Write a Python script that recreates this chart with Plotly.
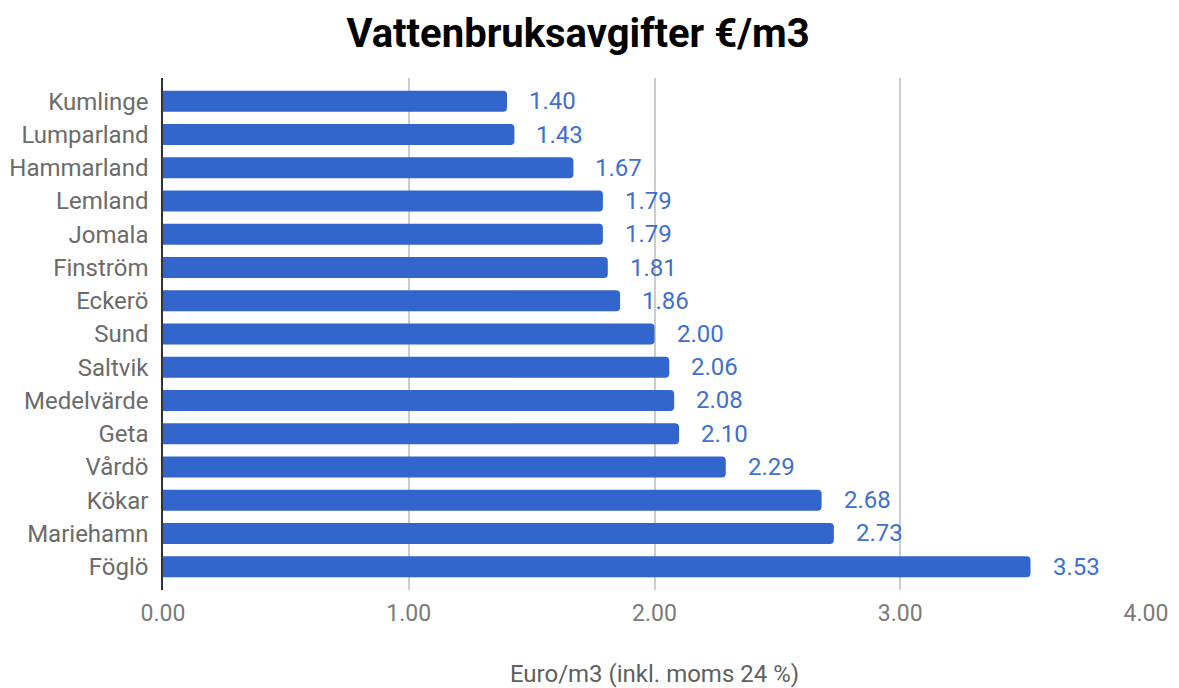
import plotly.graph_objects as go

BAR_COLOR = "#3366cc"
LABEL_COLOR = "#3f6fd1"
TICK_COLOR = "#7a7a7a"
GRID_COLOR = "#cccccc"

municipalities = [
    "Kumlinge", "Lumparland", "Hammarland", "Lemland", "Jomala", "Finström", "Eckerö",
    "Sund", "Saltvik", "Medelvärde", "Geta", "Vårdö", "Kökar", "Mariehamn", "Föglö",
]
fees = [1.40, 1.43, 1.67, 1.79, 1.79, 1.81, 1.86, 2.00, 2.06, 2.08, 2.10, 2.29, 2.68, 2.73, 3.53]
x_ticks = [0, 1, 2, 3, 4]
x_tick_labels = ["0.00", "1.00", "2.00", "3.00", "4.00"]

fig = go.Figure()
fig.add_trace(
    go.Bar(
        x=fees,
        y=municipalities,
        orientation="h",
        width=0.63,
        marker=dict(color=BAR_COLOR, line=dict(width=0), cornerradius=4),
        hoverinfo="x+y",
    )
)

# the page puts the figure 8px in from the top-left corner, so the sizes allow for that
fig.update_layout(
    width=1171,
    height=680,
    margin=dict(l=155, r=33, t=70, b=98),
    paper_bgcolor="white",
    plot_bgcolor="white",
    font=dict(family="Roboto, sans-serif", size=24, color=TICK_COLOR),
    showlegend=False,
    title=dict(
        text="<b>Vattenbruksavgifter €/m3</b>",
        x=570 / 1171,
        xanchor="center",
        y=1 - 25 / 680,
        yanchor="middle",
        font=dict(family="Roboto, sans-serif", size=40, color="#000000"),
    ),
    xaxis=dict(
        range=[0, 4],
        tickvals=x_ticks,
        ticktext=x_tick_labels,
        showgrid=True,
        gridcolor=GRID_COLOR,
        gridwidth=1.5,
        zeroline=False,
        showline=False,
        ticks="",
        automargin=False,
        ticklabelstandoff=7,
        tickfont=dict(size=23, color=TICK_COLOR),
        title=dict(text="Euro/m3 (inkl. moms 24 %)", font=dict(size=24, color="#5f5f5f"), standoff=41),
    ),
    yaxis=dict(
        categoryorder="array",
        categoryarray=municipalities[::-1],
        range=[-0.7, 14.7],
        showgrid=False,
        showline=True,
        linecolor="#333333",
        linewidth=1.5,
        ticks="",
        automargin=False,
        ticklabelstandoff=8,
        tickfont=dict(size=24, color="#6b6b6b"),
    ),
)

for name, value in zip(municipalities, fees):
    fig.add_annotation(
        x=value,
        y=name,
        text=f"{value:.2f}",
        showarrow=False,
        xanchor="left",
        xshift=20,
        font=dict(size=24, color=LABEL_COLOR),
    )

fig.write_html("out.html")
